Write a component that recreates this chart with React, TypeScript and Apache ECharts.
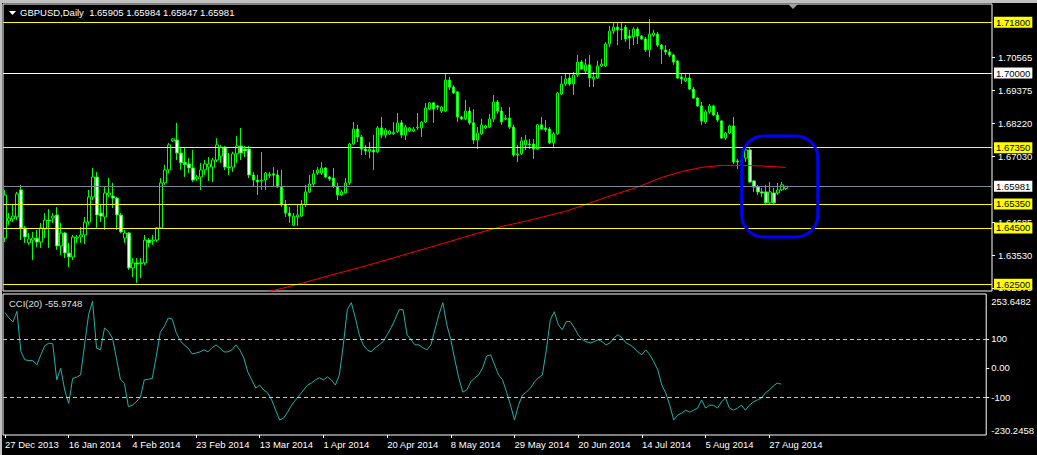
import { useEffect, useRef } from "react";
import * as echarts from "echarts";

const TITLE = "GBPUSD,Daily  1.65905 1.65984 1.65847 1.65981";
const CCI_TITLE = "CCI(20) -55.9748";

const tickLabels = [
  "27 Dec 2013", "16 Jan 2014", "4 Feb 2014", "23 Feb 2014", "13 Mar 2014", "1 Apr 2014",
  "20 Apr 2014", "8 May 2014", "29 May 2014", "20 Jun 2014", "14 Jul 2014", "5 Aug 2014", "27 Aug 2014",
];
const labelStep = 16;
const slotCount = 247;

// [open, close, low, high]
const candles: number[][] = [
  [1.6414, 1.6567, 1.6400, 1.6585], [1.6475, 1.6485, 1.6461, 1.6503], [1.6482, 1.6492, 1.6471, 1.6532],
  [1.6489, 1.6571, 1.6478, 1.6578], [1.6585, 1.6450, 1.6407, 1.6603], [1.6450, 1.6418, 1.6397, 1.6457],
  [1.6397, 1.6411, 1.6390, 1.6432], [1.6407, 1.6414, 1.6336, 1.6436], [1.6414, 1.6400, 1.6382, 1.6443],
  [1.6400, 1.6450, 1.6379, 1.6468], [1.6446, 1.6478, 1.6414, 1.6503], [1.6478, 1.6475, 1.6379, 1.6517],
  [1.6485, 1.6492, 1.6468, 1.6503], [1.6496, 1.6386, 1.6372, 1.6524], [1.6386, 1.6432, 1.6354, 1.6468],
  [1.6432, 1.6361, 1.6343, 1.6436], [1.6361, 1.6347, 1.6311, 1.6397], [1.6347, 1.6418, 1.6336, 1.6425],
  [1.6414, 1.6418, 1.6397, 1.6425], [1.6418, 1.6425, 1.6397, 1.6453], [1.6425, 1.6471, 1.6393, 1.6489],
  [1.6471, 1.6560, 1.6461, 1.6585], [1.6560, 1.6631, 1.6549, 1.6663], [1.6631, 1.6496, 1.6450, 1.6649],
  [1.6503, 1.6492, 1.6471, 1.6532], [1.6489, 1.6574, 1.6443, 1.6595], [1.6567, 1.6574, 1.6560, 1.6627],
  [1.6563, 1.6556, 1.6521, 1.6610], [1.6556, 1.6496, 1.6443, 1.6560], [1.6496, 1.6436, 1.6432, 1.6503],
  [1.6414, 1.6432, 1.6397, 1.6443], [1.6432, 1.6308, 1.6301, 1.6436], [1.6308, 1.6326, 1.6276, 1.6343],
  [1.6326, 1.6322, 1.6255, 1.6343], [1.6326, 1.6324, 1.6272, 1.6343], [1.6326, 1.6407, 1.6318, 1.6425],
  [1.6407, 1.6397, 1.6382, 1.6414], [1.6404, 1.6407, 1.6390, 1.6425], [1.6407, 1.6450, 1.6400, 1.6453],
  [1.6450, 1.6610, 1.6446, 1.6627], [1.6610, 1.6656, 1.6603, 1.6674], [1.6656, 1.6745, 1.6645, 1.6752],
  [1.6759, 1.6766, 1.6755, 1.6769], [1.6762, 1.6716, 1.6691, 1.6823], [1.6716, 1.6681, 1.6656, 1.6737],
  [1.6682, 1.6675, 1.6631, 1.6734], [1.6677, 1.6663, 1.6645, 1.6698], [1.6663, 1.6620, 1.6613, 1.6727],
  [1.6624, 1.6631, 1.6617, 1.6638], [1.6631, 1.6656, 1.6585, 1.6681], [1.6656, 1.6677, 1.6638, 1.6691],
  [1.6666, 1.6677, 1.6617, 1.6702], [1.6666, 1.6691, 1.6613, 1.6698], [1.6691, 1.6745, 1.6684, 1.6769],
  [1.6705, 1.6737, 1.6681, 1.6745], [1.6737, 1.6666, 1.6656, 1.6741], [1.6666, 1.6663, 1.6638, 1.6716],
  [1.6666, 1.6713, 1.6649, 1.6720], [1.6713, 1.6741, 1.6681, 1.6776], [1.6741, 1.6716, 1.6691, 1.6805],
  [1.6730, 1.6723, 1.6702, 1.6741], [1.6730, 1.6638, 1.6627, 1.6741], [1.6638, 1.6620, 1.6595, 1.6649],
  [1.6620, 1.6613, 1.6567, 1.6638], [1.6617, 1.6620, 1.6585, 1.6720], [1.6620, 1.6645, 1.6585, 1.6649],
  [1.6636, 1.6640, 1.6627, 1.6649], [1.6642, 1.6638, 1.6595, 1.6666], [1.6638, 1.6595, 1.6592, 1.6656],
  [1.6595, 1.6532, 1.6524, 1.6656], [1.6532, 1.6503, 1.6489, 1.6549], [1.6503, 1.6492, 1.6468, 1.6524],
  [1.6460, 1.6492, 1.6457, 1.6503], [1.6489, 1.6496, 1.6457, 1.6535], [1.6492, 1.6535, 1.6489, 1.6549],
  [1.6532, 1.6578, 1.6524, 1.6603], [1.6578, 1.6606, 1.6574, 1.6638], [1.6606, 1.6642, 1.6599, 1.6656],
  [1.6645, 1.6656, 1.6638, 1.6666], [1.6645, 1.6663, 1.6638, 1.6684], [1.6663, 1.6631, 1.6627, 1.6666],
  [1.6631, 1.6624, 1.6617, 1.6634], [1.6627, 1.6599, 1.6592, 1.6663], [1.6595, 1.6567, 1.6549, 1.6610],
  [1.6567, 1.6578, 1.6563, 1.6585], [1.6574, 1.6610, 1.6574, 1.6627], [1.6610, 1.6748, 1.6603, 1.6752],
  [1.6748, 1.6801, 1.6745, 1.6826], [1.6801, 1.6773, 1.6755, 1.6816], [1.6773, 1.6730, 1.6709, 1.6780],
  [1.6730, 1.6723, 1.6709, 1.6745], [1.6723, 1.6730, 1.6698, 1.6755], [1.6727, 1.6720, 1.6656, 1.6780],
  [1.6720, 1.6805, 1.6716, 1.6812], [1.6805, 1.6780, 1.6769, 1.6844], [1.6780, 1.6798, 1.6769, 1.6805],
  [1.6784, 1.6794, 1.6780, 1.6798], [1.6784, 1.6789, 1.6780, 1.6826], [1.6791, 1.6823, 1.6787, 1.6858],
  [1.6823, 1.6780, 1.6769, 1.6833], [1.6780, 1.6808, 1.6762, 1.6816], [1.6794, 1.6805, 1.6791, 1.6808],
  [1.6794, 1.6801, 1.6791, 1.6808], [1.6805, 1.6808, 1.6798, 1.6858], [1.6805, 1.6826, 1.6773, 1.6830],
  [1.6826, 1.6876, 1.6823, 1.6894], [1.6872, 1.6894, 1.6869, 1.6897], [1.6894, 1.6872, 1.6823, 1.6897],
  [1.6883, 1.6879, 1.6869, 1.6887], [1.6865, 1.6879, 1.6858, 1.6883], [1.6865, 1.6975, 1.6862, 1.6997],
  [1.6975, 1.6950, 1.6940, 1.6986], [1.6950, 1.6929, 1.6926, 1.6957], [1.6933, 1.6844, 1.6826, 1.6936],
  [1.6844, 1.6837, 1.6833, 1.6848], [1.6837, 1.6865, 1.6833, 1.6904], [1.6865, 1.6823, 1.6816, 1.6879],
  [1.6823, 1.6762, 1.6748, 1.6872], [1.6762, 1.6787, 1.6730, 1.6808], [1.6784, 1.6816, 1.6780, 1.6837],
  [1.6805, 1.6812, 1.6801, 1.6816], [1.6808, 1.6837, 1.6805, 1.6855], [1.6837, 1.6897, 1.6826, 1.6922],
  [1.6897, 1.6865, 1.6855, 1.6904], [1.6865, 1.6826, 1.6816, 1.6879], [1.6837, 1.6840, 1.6833, 1.6851],
  [1.6840, 1.6808, 1.6801, 1.6879], [1.6808, 1.6709, 1.6702, 1.6816], [1.6709, 1.6713, 1.6684, 1.6745],
  [1.6713, 1.6759, 1.6709, 1.6773], [1.6745, 1.6762, 1.6727, 1.6780], [1.6748, 1.6745, 1.6730, 1.6766],
  [1.6748, 1.6730, 1.6695, 1.6766], [1.6730, 1.6816, 1.6727, 1.6819], [1.6816, 1.6801, 1.6798, 1.6844],
  [1.6805, 1.6799, 1.6791, 1.6833], [1.6801, 1.6752, 1.6748, 1.6808], [1.6752, 1.6784, 1.6737, 1.6791],
  [1.6784, 1.6929, 1.6780, 1.6933], [1.6925, 1.6961, 1.6922, 1.6989], [1.6961, 1.6979, 1.6954, 1.6997],
  [1.6982, 1.6961, 1.6954, 1.6997], [1.6961, 1.6993, 1.6922, 1.7004], [1.6993, 1.7039, 1.6986, 1.7064],
  [1.7039, 1.7014, 1.7011, 1.7046], [1.7007, 1.7029, 1.6997, 1.7050], [1.7029, 1.6982, 1.6950, 1.7064],
  [1.6979, 1.6986, 1.6950, 1.7004], [1.6982, 1.7025, 1.6979, 1.7043], [1.7025, 1.7032, 1.7021, 1.7050],
  [1.7025, 1.7103, 1.7021, 1.7110], [1.7103, 1.7149, 1.7092, 1.7167], [1.7149, 1.7163, 1.7138, 1.7181],
  [1.7163, 1.7153, 1.7099, 1.7181], [1.7156, 1.7153, 1.7117, 1.7181], [1.7163, 1.7121, 1.7110, 1.7170],
  [1.7131, 1.7124, 1.7085, 1.7153], [1.7128, 1.7156, 1.7099, 1.7163], [1.7156, 1.7131, 1.7103, 1.7163],
  [1.7131, 1.7121, 1.7117, 1.7135], [1.7121, 1.7082, 1.7075, 1.7128], [1.7082, 1.7138, 1.7057, 1.7192],
  [1.7135, 1.7142, 1.7128, 1.7153], [1.7138, 1.7099, 1.7092, 1.7146], [1.7099, 1.7085, 1.7032, 1.7103],
  [1.7082, 1.7075, 1.7064, 1.7099], [1.7075, 1.7064, 1.7057, 1.7085], [1.7064, 1.7039, 1.7029, 1.7068],
  [1.7043, 1.6982, 1.6979, 1.7046], [1.6986, 1.6979, 1.6961, 1.6997], [1.6972, 1.6982, 1.6968, 1.6997],
  [1.6982, 1.6943, 1.6940, 1.6997], [1.6943, 1.6911, 1.6908, 1.6950], [1.6911, 1.6883, 1.6879, 1.6915],
  [1.6883, 1.6830, 1.6816, 1.6897], [1.6826, 1.6862, 1.6819, 1.6869], [1.6862, 1.6883, 1.6855, 1.6890],
  [1.6883, 1.6851, 1.6847, 1.6887], [1.6851, 1.6833, 1.6826, 1.6862], [1.6830, 1.6769, 1.6766, 1.6833],
  [1.6769, 1.6787, 1.6762, 1.6791], [1.6787, 1.6812, 1.6784, 1.6816], [1.6812, 1.6684, 1.6677, 1.6844],
  [1.6688, 1.6684, 1.6659, 1.6695], [1.6684, 1.6689, 1.6677, 1.6695], [1.6698, 1.6727, 1.6684, 1.6737],
  [1.6727, 1.6613, 1.6610, 1.6734], [1.6617, 1.6595, 1.6578, 1.6620], [1.6595, 1.6578, 1.6567, 1.6603],
  [1.6578, 1.6574, 1.6560, 1.6592], [1.6578, 1.6539, 1.6535, 1.6603], [1.6539, 1.6578, 1.6535, 1.6613],
  [1.6574, 1.6539, 1.6535, 1.6592], [1.6574, 1.6585, 1.6567, 1.6610], [1.6585, 1.6603, 1.6581, 1.6613],
  [1.65905, 1.65981, 1.65847, 1.65984],
];

const cci: number[] = [
  190, 171, 158, 194, 56, 28, 25, 25, 10, 45, 76, 85, 83, -41, -1, -76, -122, -36, -32, -24,
  79, 183, 229, 68, 62, 137, 125, 102, 33, -39, -53, -133, -128, -116, -101, -41, -39, -36, 39, 122,
  142, 171, 168, 122, 94, 79, 68, 48, 51, 55, 62, 55, 69, 79, 69, 55, 55, 62, 79, 62,
  34, -14, -41, -69, -59, -76, -86, -110, -145, -179, -172, -152, -128, -110, -93, -76, -59, -52, -41, -34,
  -41, -31, -41, -59, -24, 79, 200, 224, 172, 114, 79, 62, 55, 69, 79, 90, 114, 138, 166, 200,
  200, 114, 97, 79, 79, 69, 62, 79, 131, 183, 224, 148, 97, 28, -34, -83, -76, -48, -34, -24,
  0, 41, 45, 10, -24, -41, -83, -128, -179, -128, -93, -83, -69, -48, -34, -24, 62, 166, 193, 148,
  131, 159, 159, 138, 114, 97, 90, 86, 90, 97, 90, 79, 86, 103, 114, 103, 86, 79, 69, 55,
  45, 62, 45, 21, -7, -59, -86, -128, -179, -162, -155, -145, -152, -145, -138, -110, -138, -128, -128, -138,
  -117, -103, -138, -145, -138, -128, -145, -128, -117, -110, -103, -86, -76, -62, -52, -55.97,
];

// moving average read at sparse bars
const maBars = [64, 69, 74, 81, 89, 99, 109, 116, 124, 131, 140, 145, 151, 158, 164, 169, 174, 179, 184, 189, 195];
const maValues = [
  1.6217, 1.6235, 1.6253, 1.6281, 1.6311, 1.6352, 1.6393, 1.6423, 1.6455, 1.6477, 1.6509,
  1.6533, 1.6563, 1.6595, 1.6629, 1.6650, 1.6665, 1.6672, 1.6672, 1.6670, 1.6665,
];

const yellowLevels = [1.718, 1.6735, 1.6535, 1.645, 1.625];
const whiteLevels = [1.7];
const bidLevel = 1.65981;
const priceTicks = [1.70565, 1.69375, 1.6822, 1.6703, 1.64685, 1.6353, 1.62375];
const priceMin = 1.622615;
const priceMax = 1.724496;

const cciMin = -230.2458;
const cciMax = 253.6482;
const cciTicks = [253.6482, 100, 0, -100, -230.2458];
const cciTickLabels = ["253.6482", "100", "0.00", "-100", "-230.2458"];
const cciLevels = [100, -100];

const box = { fromBar: 184, toBar: 203, top: 1.6776, bottom: 1.6418 };

const FONT = "Liberation Sans, Arial, sans-serif";
const FS = 9.5;

export default function App() {
  const ref = useRef<HTMLDivElement>(null);

  useEffect(() => {
    if (!ref.current) return;
    const chart = echarts.init(ref.current, undefined, { renderer: "svg" });
    const cats = Array.from({ length: slotCount }, (_, i) => String(i));
    const showTick = (i: number) => i % labelStep === 0 && i / labelStep < tickLabels.length;

    const levelLine = (v: number, line: string, bg: string) => ({
      yAxis: v,
      lineStyle: { color: line, width: 1, type: "solid" },
      label: {
        show: true,
        position: "end",
        distance: 2,
        formatter: v.toFixed(5),
        color: "#000000",
        backgroundColor: bg,
        padding: [1, 2, 0, 2],
        fontSize: FS,
        fontFamily: FONT,
        lineHeight: 10,
      },
    });

    const option: any = {
      animation: false,
      backgroundColor: "#000000",
      grid: [
        { left: 3, width: 989, top: 4, height: 287, show: true, borderColor: "#ffffff", borderWidth: 1, backgroundColor: "transparent" },
        { left: 3, width: 989, top: 294, height: 141, show: true, borderColor: "#ffffff", borderWidth: 1, backgroundColor: "transparent" },
      ],
      xAxis: [
        { type: "category", gridIndex: 0, data: cats, boundaryGap: true, show: false },
        {
          type: "category",
          gridIndex: 1,
          data: cats,
          boundaryGap: true,
          position: "bottom",
          axisLine: { show: false, onZero: false },
          axisTick: { show: true, alignWithLabel: true, interval: (i: number) => showTick(i), length: 3, lineStyle: { color: "#ffffff" } },
          axisLabel: {
            show: true,
            interval: (i: number) => showTick(i),
            formatter: (_v: string, i: number) => (showTick(i) ? tickLabels[i / labelStep] : ""),
            color: "#ffffff",
            fontSize: FS,
            fontFamily: FONT,
            align: "left",
            margin: 4,
          },
          splitLine: { show: false },
        },
      ],
      yAxis: [
        {
          type: "value",
          gridIndex: 0,
          position: "right",
          min: priceMin,
          max: priceMax,
          splitLine: { show: false },
          axisLine: { show: false },
          axisTick: { show: true, customValues: priceTicks, length: 3, lineStyle: { color: "#ffffff" } },
          axisLabel: {
            customValues: priceTicks,
            formatter: (v: number) => v.toFixed(5),
            color: "#ffffff",
            fontSize: FS,
            fontFamily: FONT,
            margin: 6,
          },
        },
        {
          type: "value",
          gridIndex: 1,
          position: "right",
          min: cciMin,
          max: cciMax,
          splitLine: { show: false },
          axisLine: { show: false },
          axisTick: { show: true, customValues: cciTicks.slice(1, 4), length: 3, lineStyle: { color: "#ffffff" } },
          axisLabel: {
            customValues: cciTicks,
            formatter: (v: number) => {
              let k = 0;
              cciTicks.forEach((t, j) => {
                if (Math.abs(t - v) < Math.abs(cciTicks[k] - v)) k = j;
              });
              const tag = k === 0 ? "top" : k === cciTicks.length - 1 ? "bot" : "mid";
              return `{${tag}|${cciTickLabels[k]}}`;
            },
            color: "#ffffff",
            fontSize: FS,
            fontFamily: FONT,
            margin: 5,
            rich: {
              top: { color: "#ffffff", fontSize: FS, fontFamily: FONT, padding: [15, 0, 0, 0] },
              mid: { color: "#ffffff", fontSize: FS, fontFamily: FONT },
              bot: { color: "#ffffff", fontSize: FS, fontFamily: FONT, padding: [0, 0, 10, 0] },
            },
          },
        },
      ],
      series: [
        {
          type: "candlestick",
          xAxisIndex: 0,
          yAxisIndex: 0,
          data: candles,
          barWidth: 3,
          itemStyle: {
            color: "#000000",
            color0: "#ffffff",
            borderColor: "#00ff00",
            borderColor0: "#00ff00",
            borderWidth: 1,
          },
          markLine: {
            silent: true,
            symbol: ["none", "none"],
            precision: 5,
            animation: false,
            data: [
              ...yellowLevels.map((v) => levelLine(v, "#ffff00", "#ffff00")),
              ...whiteLevels.map((v) => levelLine(v, "#ffffff", "#ffffff")),
              levelLine(bidLevel, "#778899", "#ffffff"),
            ],
          },
        },
        {
          type: "line",
          xAxisIndex: 0,
          yAxisIndex: 0,
          data: maBars.map((b, i) => [b, maValues[i]]),
          symbol: "none",
          clip: true,
          lineStyle: { color: "#ff0000", width: 1 },
        },
        {
          type: "line",
          xAxisIndex: 1,
          yAxisIndex: 1,
          data: cci,
          symbol: "none",
          clip: true,
          lineStyle: { color: "#20b2aa", width: 1 },
          markLine: {
            silent: true,
            symbol: ["none", "none"],
            precision: 4,
            label: { show: false },
            data: cciLevels.map((v) => ({ yAxis: v })),
            lineStyle: { color: "#c8c8c8", type: [4, 3], width: 1 },
          },
        },
      ],
    };
    chart.setOption(option);

    const p1 = chart.convertToPixel({ gridIndex: 0 }, [box.fromBar, box.top]) as number[];
    const p2 = chart.convertToPixel({ gridIndex: 0 }, [box.toBar, box.bottom]) as number[];

    chart.setOption({
      graphic: [
        { type: "rect", shape: { x: 0, y: 0, width: 1037, height: 3 }, style: { fill: "#c0c0c0" }, silent: true },
        { type: "rect", shape: { x: 0, y: 0, width: 2, height: 455 }, style: { fill: "#c0c0c0" }, silent: true },
        { type: "polygon", shape: { points: [[9, 11], [16, 11], [12.5, 15]] }, style: { fill: "#ffffff" }, silent: true },
        {
          type: "text",
          x: 20,
          y: 7,
          style: { text: TITLE, fill: "#ffffff", fontSize: FS, fontFamily: FONT },
          silent: true,
        },
        {
          type: "text",
          x: 9,
          y: 298,
          style: { text: CCI_TITLE, fill: "#e0e0e0", fontSize: FS, fontFamily: FONT },
          silent: true,
        },
        { type: "polygon", shape: { points: [[788, 4], [798, 4], [793, 9]] }, style: { fill: "#a0a0a0" }, silent: true },
        {
          type: "rect",
          shape: { x: p1[0], y: p1[1], width: p2[0] - p1[0], height: p2[1] - p1[1], r: 22 },
          style: { fill: "none", stroke: "#0000ff", lineWidth: 3 },
          silent: true,
          z: 10,
        },
      ],
    });

    return () => chart.dispose();
  }, []);

  return (
    <div
      ref={ref}
      style={{ position: "absolute", left: 0, top: 0, width: 1037, height: 455, background: "#000000" }}
    />
  );
}
